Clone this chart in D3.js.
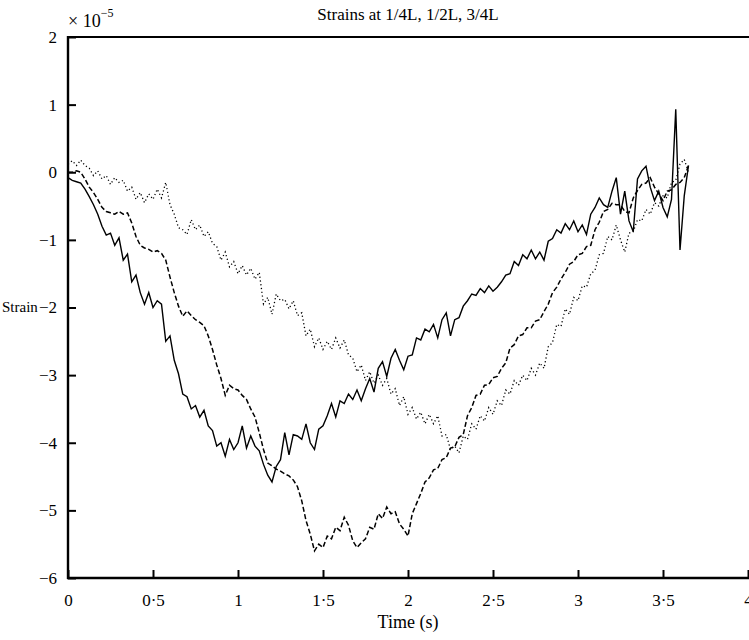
<!DOCTYPE html>
<html>
<head>
<meta charset="utf-8">
<script src="https://cdn.jsdelivr.net/npm/d3@7"></script>
<style>
  body { margin: 0; background: #fff; }
  svg text { font-family: "Liberation Serif", "Times New Roman", Times, "DejaVu Serif", serif; fill: #000; }
</style>
</head>
<body>
<div class="chart"></div>
<script>
// sampling step of the recorded signals (s)
const SAMPLE_STEP = 0.025;

// strain at 1/4L (solid), units of 1e-5
const strainQuarter = [
  -0.08,-0.12,-0.14,-0.16,-0.25,-0.36,-0.48,-0.62,-0.8,-0.93,
  -0.9,-1.08,-0.97,-1.3,-1.21,-1.62,-1.52,-1.78,-1.95,-1.78,
  -2.0,-1.9,-1.95,-2.5,-2.42,-2.78,-2.98,-3.28,-3.32,-3.5,
  -3.45,-3.62,-3.52,-3.75,-3.82,-4.05,-4.0,-4.2,-3.95,-4.1,
  -4.0,-3.75,-4.08,-3.9,-4.05,-4.12,-4.32,-4.48,-4.58,-4.35,
  -4.25,-3.85,-4.18,-3.88,-3.9,-3.95,-3.72,-4.0,-4.1,-3.8,
  -3.75,-3.6,-3.42,-3.62,-3.38,-3.42,-3.28,-3.36,-3.22,-3.38,
  -3.2,-3.05,-3.25,-2.9,-2.8,-3.02,-2.75,-2.62,-2.78,-2.92,
  -2.72,-2.7,-2.45,-2.48,-2.32,-2.36,-2.25,-2.45,-2.18,-2.08,
  -2.42,-2.18,-2.15,-1.98,-1.9,-1.8,-1.82,-1.72,-1.78,-1.68,
  -1.76,-1.7,-1.62,-1.52,-1.5,-1.32,-1.38,-1.22,-1.28,-1.15,
  -1.28,-1.18,-1.3,-1.02,-0.98,-0.85,-0.9,-0.76,-0.85,-0.72,
  -0.88,-0.78,-0.92,-0.62,-0.52,-0.38,-0.48,-0.52,-0.28,-0.08,
  -0.62,-0.28,-0.72,-0.88,-0.1,0.02,0.09,-0.22,-0.42,-0.28,
  -0.52,-0.66,-0.4,0.93,-1.15,-0.35,0.1
];

// strain at 1/2L (dashed)
const strainHalf = [
  0.0,0.0,0.02,0.0,-0.1,-0.22,-0.3,-0.4,-0.52,-0.58,
  -0.6,-0.62,-0.58,-0.62,-0.6,-0.75,-0.95,-1.08,-1.12,-1.14,
  -1.18,-1.16,-1.2,-1.3,-1.55,-1.78,-1.98,-2.13,-2.05,-2.12,
  -2.18,-2.22,-2.27,-2.42,-2.62,-2.85,-3.05,-3.3,-3.15,-3.2,
  -3.22,-3.3,-3.36,-3.5,-3.62,-3.85,-4.1,-4.3,-4.34,-4.39,
  -4.42,-4.46,-4.49,-4.55,-4.65,-4.86,-5.15,-5.35,-5.6,-5.5,
  -5.55,-5.38,-5.42,-5.25,-5.3,-5.1,-5.22,-5.45,-5.55,-5.48,
  -5.42,-5.25,-5.28,-5.05,-5.12,-4.95,-5.05,-5.02,-5.2,-5.28,
  -5.38,-5.05,-4.9,-4.75,-4.58,-4.52,-4.4,-4.38,-4.25,-4.22,
  -4.08,-4.06,-3.92,-3.88,-3.6,-3.48,-3.3,-3.28,-3.15,-3.14,
  -3.04,-3.02,-2.9,-2.82,-2.6,-2.55,-2.42,-2.4,-2.3,-2.3,
  -2.2,-2.18,-2.06,-1.95,-1.78,-1.7,-1.58,-1.48,-1.36,-1.32,
  -1.22,-1.2,-1.1,-1.08,-0.85,-0.74,-0.58,-0.55,-0.46,-0.48,
  -0.48,-0.58,-0.6,-0.38,-0.27,-0.18,-0.16,-0.08,-0.22,-0.32,
  -0.42,-0.28,-0.26,-0.18,-0.15,-0.08,0.1
];

// strain at 3/4L (dotted)
const strainThreeQuarter = [
  0.12,0.17,0.1,0.18,0.1,0.06,-0.05,0.02,-0.1,-0.05,
  -0.18,-0.08,-0.15,-0.12,-0.28,-0.22,-0.4,-0.3,-0.45,-0.32,
  -0.4,-0.25,-0.38,-0.15,-0.48,-0.62,-0.82,-0.85,-0.92,-0.7,
  -0.85,-0.78,-0.95,-0.88,-1.05,-1.1,-1.3,-1.18,-1.4,-1.32,
  -1.5,-1.38,-1.52,-1.42,-1.58,-1.48,-1.95,-1.85,-2.1,-1.8,
  -1.9,-1.88,-2.02,-1.9,-2.12,-2.08,-2.42,-2.32,-2.58,-2.45,
  -2.62,-2.5,-2.62,-2.45,-2.6,-2.48,-2.7,-2.75,-2.95,-2.85,
  -3.08,-2.95,-3.12,-3.0,-3.15,-3.05,-3.28,-3.2,-3.45,-3.32,
  -3.58,-3.48,-3.65,-3.55,-3.72,-3.58,-3.72,-3.6,-3.9,-3.88,
  -4.1,-4.05,-4.15,-3.9,-3.95,-3.72,-3.8,-3.6,-3.68,-3.48,
  -3.58,-3.38,-3.45,-3.22,-3.28,-3.08,-3.15,-3.0,-3.08,-2.9,
  -3.0,-2.82,-2.9,-2.58,-2.52,-2.25,-2.28,-2.02,-2.1,-1.85,
  -1.9,-1.68,-1.7,-1.5,-1.45,-1.22,-1.2,-0.95,-1.0,-0.78,
  -1.0,-1.18,-0.9,-0.88,-0.7,-0.72,-0.55,-0.62,-0.45,-0.5,
  -0.35,-0.38,-0.15,-0.12,0.12,0.19,0.0
];

const xTicks = [0, 0.5, 1, 1.5, 2, 2.5, 3, 3.5, 4];
const yTicks = [-6, -5, -4, -3, -2, -1, 0, 1, 2];

const WIDTH = 749;
const HEIGHT = 640;
const LEFT = 68, RIGHT = 748, TOP = 37, BOTTOM = 578;
const SERIF = "'Liberation Serif', 'Times New Roman', Times, 'DejaVu Serif', serif";

const svg = d3.select(".chart")
  .append("svg")
  .attr("width", WIDTH)
  .attr("height", HEIGHT)
  .attr("font-family", SERIF);

const x = d3.scaleLinear().domain([0, 4]).range([LEFT, RIGHT]);
const y = d3.scaleLinear().domain([-6, 2]).range([BOTTOM, TOP]);

// numbers in the journal style, with a raised dot as decimal point
const fmt = d => String(d).replace(".", "\u00B7").replace("-", "\u2212");

// series lines
const series = [
  { values: strainQuarter, dash: null, width: 1.4 },
  { values: strainHalf, dash: "5,2.5", width: 1.5 },
  { values: strainThreeQuarter, dash: "1.2,2.6", width: 1.3 }
];

const line = d3.line()
  .x((d, i) => x(i * SAMPLE_STEP))
  .y(d => y(d));

series.forEach(s => {
  svg.append("path")
    .datum(s.values)
    .attr("fill", "none")
    .attr("stroke", "#000")
    .attr("stroke-width", s.width)
    .attr("stroke-dasharray", s.dash)
    .attr("d", line);
});

// axes
const xAxis = svg.append("g")
  .attr("transform", `translate(0,${BOTTOM})`)
  .call(d3.axisBottom(x).tickValues(xTicks).tickSize(-8).tickPadding(16).tickFormat(fmt));

const yAxis = svg.append("g")
  .attr("transform", `translate(${LEFT},0)`)
  .call(d3.axisLeft(y).tickValues(yTicks).tickSize(-8).tickPadding(11).tickFormat(fmt));

[xAxis, yAxis].forEach(g => {
  g.attr("font-family", SERIF).attr("font-size", 17);
  g.select(".domain").remove();
  g.selectAll(".tick line").attr("stroke-width", 2);
});

// frame lines drawn by hand so they are thick and square
svg.append("line")
  .attr("x1", LEFT).attr("x2", LEFT).attr("y1", TOP - 1).attr("y2", BOTTOM + 1)
  .attr("stroke", "#000").attr("stroke-width", 2.4);
svg.append("line")
  .attr("x1", LEFT - 1).attr("x2", WIDTH).attr("y1", BOTTOM).attr("y2", BOTTOM)
  .attr("stroke", "#000").attr("stroke-width", 2.4);
svg.append("line")
  .attr("x1", LEFT - 1).attr("x2", WIDTH).attr("y1", TOP).attr("y2", TOP)
  .attr("stroke", "#000").attr("stroke-width", 2);

// title and labels
svg.append("text")
  .attr("x", x(2)).attr("y", 20)
  .attr("text-anchor", "middle")
  .attr("font-size", 17)
  .text("Strains at 1/4L, 1/2L, 3/4L");

const mult = svg.append("text")
  .attr("x", LEFT).attr("y", 27)
  .attr("font-size", 18);
mult.append("tspan").text("\u00D7 10");
mult.append("tspan").attr("dy", -10).attr("font-size", 12).text("\u22125");

svg.append("text")
  .attr("x", 2).attr("y", 312)
  .attr("font-size", 15)
  .text("Strain");

svg.append("text")
  .attr("x", x(2)).attr("y", 628)
  .attr("text-anchor", "middle")
  .attr("font-size", 18)
  .text("Time (s)");
</script>
</body>
</html>
